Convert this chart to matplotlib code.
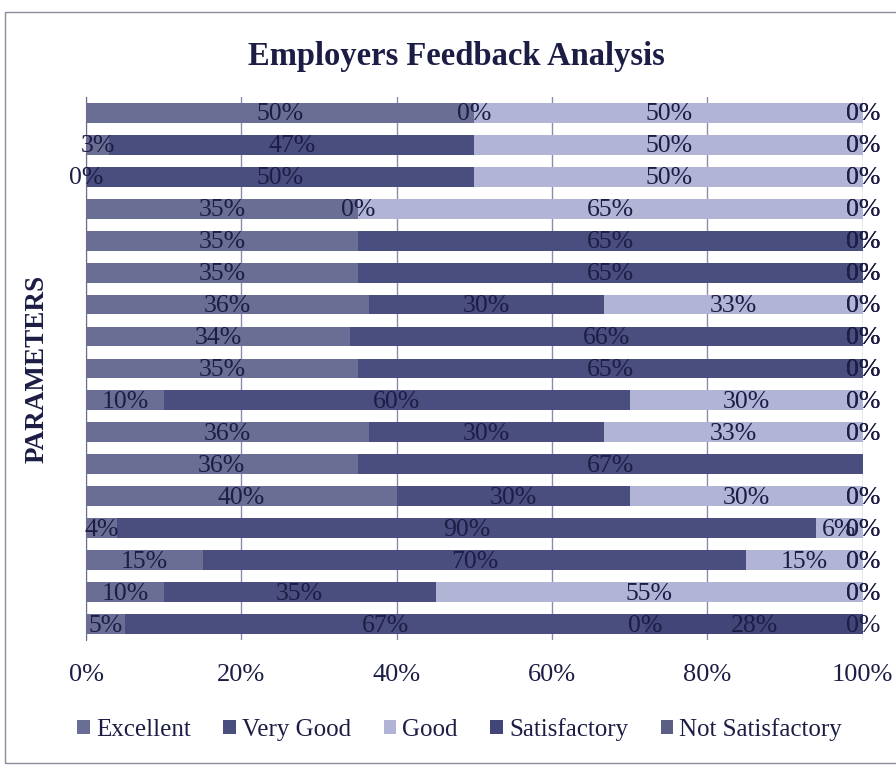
import numpy as np
import matplotlib
matplotlib.use("Agg")
import matplotlib.pyplot as plt
from matplotlib.patches import Rectangle

plt.rcParams['font.family'] = ['Liberation Serif', 'DejaVu Serif']

# data, top bar first (raw percentages as printed on the chart)
series = ["Excellent", "Very Good", "Good", "Satisfactory", "Not Satisfactory"]
excellent    = [50, 3, 0, 35, 35, 35, 36, 34, 35, 10, 36, 36, 40, 4, 15, 10, 5]
very_good    = [0, 47, 50, 0, 65, 65, 30, 66, 65, 60, 30, 67, 30, 90, 70, 35, 67]
good         = [50, 50, 50, 65, 0, 0, 33, 0, 0, 30, 33, np.nan, 30, 6, 15, 55, 0]
satisfactory = [0, 0, 0, 0, 0, 0, 0, 0, 0, 0, 0, np.nan, 0, 0, 0, 0, 28]
not_satisf   = [0, 0, 0, 0, 0, 0, 0, 0, 0, 0, 0, np.nan, 0, 0, 0, 0, 0]
x_ticks = [0, 20, 40, 60, 80, 100]

colors = ["#6a6e94", "#4a4e7e", "#b2b4d6", "#424577", "#5c5f84"]
txt_col = "#1c1d45"

vals = np.array([excellent, very_good, good, satisfactory, not_satisf], dtype=float)
filled = np.nan_to_num(vals)
totals = filled.sum(axis=0)
pct = filled / totals * 100   # 100% stacked

n = vals.shape[1]
y = np.arange(n)

fig = plt.figure(figsize=(8.96, 7.66), dpi=100)
ax = fig.add_axes([0.096, 0.1645, 0.867, 0.709])

left = np.zeros(n)
for i, name in enumerate(series):
    ax.barh(y, pct[i], left=left, height=0.62, color=colors[i], label=name, zorder=2)
    for j in range(n):
        if np.isnan(vals[i, j]):
            continue
        ax.text(left[j] + pct[i, j] / 2, y[j] + 0.05, f"{int(vals[i, j])}%",
                ha="center", va="center", fontsize=18.5, color=txt_col, zorder=3)
    left = left + pct[i]

ax.set_xlim(0, 100)
ax.set_ylim(n - 0.5, -0.5)
ax.set_xticks(x_ticks)
ax.set_xticklabels([f"{t}%" for t in x_ticks], fontsize=19, color=txt_col)
ax.set_yticks([])
ax.tick_params(axis="x", length=0, pad=17)
ax.xaxis.grid(True, color="#8a8ca8", linewidth=1, zorder=0)
for s in ["top", "right", "bottom"]:
    ax.spines[s].set_visible(False)
ax.spines["left"].set_color("#6a6c90")

ax.set_ylabel("PARAMETERS", fontsize=19.5, fontweight="bold", color=txt_col, labelpad=26)
fig.text(0.509, 0.926, "Employers Feedback Analysis", ha="center", va="center",
         fontsize=23.5, fontweight="bold", color=txt_col)

fig.legend(loc="center", bbox_to_anchor=(0.513, 0.048), ncol=5, frameon=False,
           fontsize=18, handlelength=0.5, handleheight=0.5, handletextpad=0.25,
           columnspacing=1.3, labelcolor=txt_col)

# outer frame of the chart area
fig.patches.append(Rectangle((5 / 896, 3 / 766), 1.2, 751 / 766, transform=fig.transFigure,
                             fill=False, edgecolor="#8a8a9a", linewidth=1))

fig.savefig("out.png", dpi=100)
